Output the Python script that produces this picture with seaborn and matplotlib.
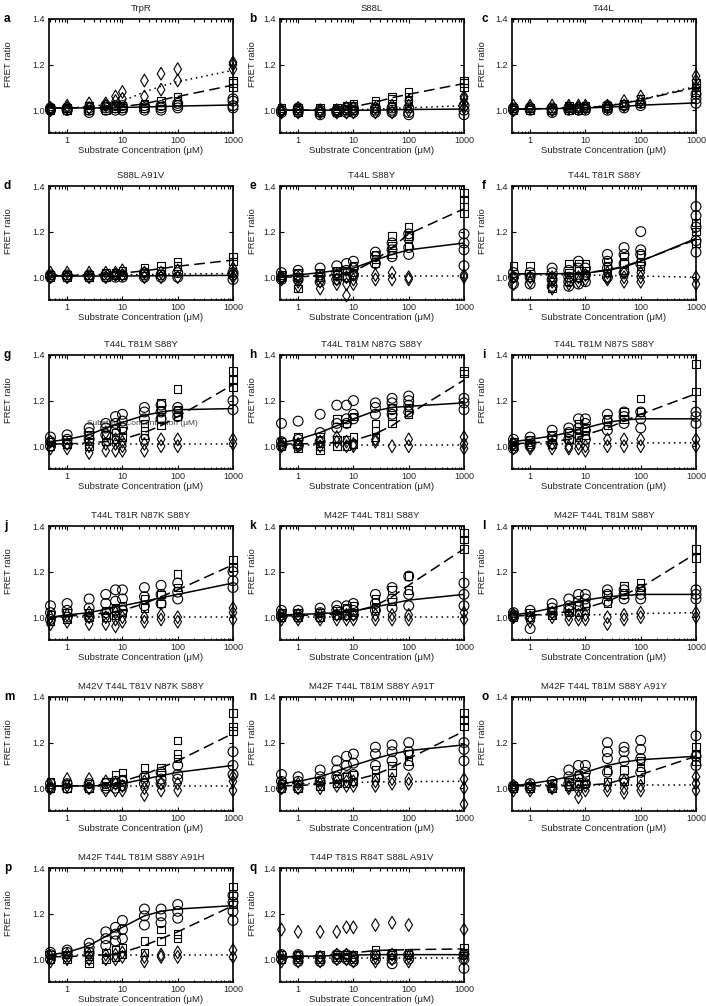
import matplotlib
matplotlib.use("Agg")
import matplotlib.pyplot as plt
import pandas as pd
import seaborn as sns

# substrate concentrations (uM) used in every panel
conc = [0.5, 1, 2.5, 5, 7.5, 10, 25, 50, 100, 1000]
xticks = [1, 10, 100, 1000]
xtick_labels = ['1', '10', '100', '1000']
yticks = [1.0, 1.2, 1.4]
yticks_labels = ['1.0', '1.2', '1.4']

letters = list('abcdefghijklmnopq')
titles = ['TrpR', 'S88L', 'T44L',
          'S88L A91V', 'T44L S88Y', 'T44L T81R S88Y',
          'T44L T81M S88Y', 'T44L T81M N87G S88Y', 'T44L T81M N87S S88Y',
          'T44L T81R N87K S88Y', 'M42F T44L T81I S88Y', 'M42F T44L T81M S88Y',
          'M42V T44L T81V N87K S88Y', 'M42F T44L T81M S88Y A91T', 'M42F T44L T81M S88Y A91Y',
          'M42F T44L T81M S88Y A91H', 'T44P T81S R84T S88L A91V']
narrow_titles = ['T44L', 'T44L S88Y', 'T44L T81M N87S S88Y']

# replicate FRET ratios per concentration: circles / squares / diamonds, and fit lines
a_circ = [[1.0, 1.01, 1.005], [1.0, 1.01, 1.0], [0.99, 1.0, 1.01], [1.0, 1.01, 1.02], [1.0, 1.01, 1.02],
          [1.0, 1.01, 1.02], [1.0, 1.01, 1.02], [1.0, 1.01, 1.02], [1.01, 1.02, 1.03], [1.01, 1.02, 1.04, 1.05]]
a_sq = [[1.0, 1.01], [1.0, 1.01], [1.0, 1.02], [1.0, 1.02], [1.01, 1.02],
        [1.01, 1.02], [1.01, 1.03], [1.02, 1.04], [1.04, 1.06], [1.1, 1.12, 1.13]]
a_dia = [[1.0, 1.01], [1.01, 1.02], [1.01, 1.03], [1.02, 1.03], [1.04, 1.06],
         [1.05, 1.08], [1.06, 1.13], [1.09, 1.16], [1.13, 1.18], [1.18, 1.2, 1.21]]
a_fit_c = [1.01, 1.01, 1.01, 1.01, 1.01, 1.012, 1.014, 1.016, 1.018, 1.023]
a_fit_s = [1.01, 1.01, 1.01, 1.012, 1.014, 1.016, 1.028, 1.045, 1.06, 1.11]
a_fit_d = [1.01, 1.01, 1.015, 1.025, 1.03, 1.04, 1.08, 1.105, 1.125, 1.175]

b_circ = [[0.99, 1.0], [0.99, 1.0, 1.01], [0.98, 0.99, 1.0], [0.99, 1.0], [0.99, 1.0, 1.01],
          [0.99, 1.0, 1.01], [0.99, 1.0, 1.01], [0.99, 1.0, 1.01], [0.98, 0.99, 1.01], [0.98, 1.0, 1.02]]
b_sq = [[1.0, 1.01], [0.99, 1.0, 1.01], [0.99, 1.01], [0.99, 1.0, 1.01], [1.0, 1.02],
        [1.0, 1.02, 1.03], [1.01, 1.03, 1.04], [1.02, 1.05, 1.06], [1.04, 1.06, 1.08], [1.1, 1.12, 1.13]]
b_dia = [[0.99, 1.0], [0.99, 1.01], [0.99, 1.0], [0.99, 1.0], [0.99, 1.01],
         [0.99, 1.01], [0.99, 1.01], [0.99, 1.02], [1.0, 1.02, 1.04], [1.01, 1.03, 1.05, 1.06]]
b_fit_c = [1.0, 1.0, 1.0, 1.0, 1.0, 1.0, 1.0, 1.002, 1.003, 1.005]
b_fit_s = [1.0, 1.0, 1.002, 1.006, 1.01, 1.015, 1.035, 1.055, 1.07, 1.117]
b_fit_d = [1.0, 1.0, 1.0, 1.0, 1.001, 1.002, 1.005, 1.008, 1.01, 1.02]

c_circ = [[1.0, 1.01], [1.0, 1.01], [0.99, 1.0, 1.01], [1.0, 1.01], [1.0, 1.01],
          [1.0, 1.01], [1.0, 1.01, 1.02], [1.01, 1.02], [1.02, 1.03], [1.03, 1.05, 1.07]]
c_sq = [[1.0, 1.01], [1.0, 1.01], [1.0, 1.01], [1.0, 1.01, 1.02], [1.0, 1.01],
        [1.01, 1.02], [1.01, 1.02], [1.02, 1.03], [1.03, 1.05], [1.08, 1.1, 1.12]]
c_dia = [[1.0, 1.02], [1.01, 1.02], [1.0, 1.02], [1.01, 1.02], [1.01, 1.02],
         [1.01, 1.02], [1.01, 1.02], [1.02, 1.04], [1.04, 1.06], [1.1, 1.13, 1.15]]
c_fit_c = [1.005, 1.005, 1.007, 1.008, 1.009, 1.01, 1.013, 1.017, 1.022, 1.032]
c_fit_s = [1.005, 1.006, 1.008, 1.01, 1.011, 1.012, 1.018, 1.03, 1.045, 1.1]
c_fit_d = [1.005, 1.006, 1.008, 1.01, 1.011, 1.012, 1.02, 1.032, 1.047, 1.105]

d_circ = [[1.0, 1.01], [1.0, 1.01], [1.0, 1.01], [1.0, 1.01], [1.0, 1.01],
          [1.0, 1.01], [1.0, 1.01, 1.02], [1.0, 1.01], [1.0, 1.02], [0.99, 1.01, 1.02]]
d_sq = [[1.0, 1.01], [1.0, 1.01], [1.0, 1.01], [1.0, 1.02], [1.01, 1.02],
        [1.01, 1.03], [1.02, 1.04], [1.03, 1.05], [1.05, 1.07], [1.07, 1.09]]
d_dia = [[1.0, 1.02], [1.0, 1.02], [1.0, 1.02], [1.0, 1.02], [1.01, 1.02],
         [1.01, 1.03], [1.0, 1.02], [1.0, 1.02], [1.0, 1.03], [1.0, 1.02, 1.04]]
d_fit_c = [1.005, 1.005, 1.005, 1.005, 1.005, 1.005, 1.006, 1.006, 1.007, 1.008]
d_fit_s = [1.005, 1.007, 1.01, 1.013, 1.016, 1.018, 1.028, 1.038, 1.048, 1.075]
d_fit_d = [1.01, 1.01, 1.01, 1.01, 1.01, 1.01, 1.012, 1.013, 1.014, 1.016]

e_circ = [[0.99, 1.0, 1.02], [0.99, 1.01, 1.03], [0.98, 1.01, 1.04], [0.99, 1.02, 1.05], [1.0, 1.03, 1.06],
          [1.01, 1.04, 1.07], [1.06, 1.09, 1.11], [1.09, 1.12, 1.15], [1.1, 1.13, 1.17, 1.19], [1.05, 1.12, 1.15, 1.19]]
e_sq = [[1.0, 1.01], [0.95, 1.0, 1.02], [1.0, 1.02], [1.01, 1.03], [1.0, 1.03],
        [1.02, 1.05], [1.06, 1.08, 1.1], [1.1, 1.14, 1.18], [1.14, 1.18, 1.22], [1.28, 1.31, 1.34, 1.37]]
e_dia = [[0.99, 1.0], [0.96, 0.98, 1.0], [0.95, 0.98, 1.0], [0.97, 0.99, 1.01], [0.92, 0.97, 1.0],
         [0.97, 0.99, 1.01], [0.99, 1.01], [0.99, 1.02], [0.99, 1.0], [1.0, 1.01]]
e_fit_c = [1.005, 1.01, 1.02, 1.03, 1.035, 1.04, 1.075, 1.1, 1.12, 1.15]
e_fit_s = [1.0, 1.002, 1.006, 1.012, 1.018, 1.025, 1.075, 1.13, 1.19, 1.3]
e_fit_d = [1.005, 1.005, 1.005, 1.005, 1.005, 1.005, 1.005, 1.005, 1.005, 1.005]

f_circ = [[0.97, 1.0, 1.02], [0.97, 1.0, 1.02], [0.96, 0.99, 1.02, 1.04], [0.96, 0.98, 1.0, 1.03], [0.97, 1.0, 1.04, 1.07],
          [0.98, 1.01, 1.04], [1.0, 1.04, 1.07, 1.1], [1.02, 1.06, 1.1, 1.13], [1.06, 1.1, 1.12, 1.2], [1.11, 1.16, 1.22, 1.27, 1.31]]
f_sq = [[1.0, 1.05], [1.0, 1.05], [0.95, 0.98, 1.0], [0.98, 1.02, 1.06], [1.0, 1.03, 1.06],
        [1.01, 1.03, 1.06], [1.02, 1.05, 1.07], [1.03, 1.06, 1.09], [1.05, 1.07, 1.1], [1.15, 1.2, 1.24]]
f_dia = [[0.97, 1.0], [0.98, 1.0], [0.95, 0.98, 1.0], [0.97, 0.99], [0.98, 1.0],
         [0.99, 1.01], [0.99, 1.0, 1.02], [0.98, 1.0, 1.02], [0.98, 1.0, 1.02], [0.97, 1.0]]
f_fit_c = [1.015, 1.015, 1.015, 1.016, 1.017, 1.018, 1.03, 1.045, 1.07, 1.17]
f_fit_s = [1.015, 1.015, 1.015, 1.016, 1.017, 1.019, 1.032, 1.048, 1.072, 1.165]
f_fit_d = [1.01, 1.01, 1.01, 1.01, 1.01, 1.01, 1.008, 1.006, 1.005, 1.0]

g_circ = [[1.0, 1.02, 1.04], [1.01, 1.03, 1.05], [1.03, 1.06, 1.08], [1.05, 1.08, 1.1], [1.07, 1.1, 1.13],
          [1.08, 1.11, 1.14], [1.03, 1.12, 1.15, 1.17], [1.12, 1.15, 1.18], [1.13, 1.15, 1.17], [1.16, 1.2]]
g_sq = [[1.0, 1.02], [1.01, 1.03], [1.0, 1.02, 1.05], [1.02, 1.05], [1.03, 1.06],
        [1.04, 1.07], [1.05, 1.07, 1.1], [1.09, 1.12, 1.16, 1.19], [1.13, 1.16, 1.25], [1.26, 1.29, 1.33]]
g_dia = [[0.99, 1.02], [0.99, 1.01], [0.97, 1.0], [0.98, 1.01, 1.06], [0.98, 1.01, 1.03],
         [0.98, 1.0, 1.02], [0.98, 1.01], [1.0, 1.03], [1.0, 1.03], [1.01, 1.03]]
g_fit_c = [1.02, 1.03, 1.05, 1.08, 1.095, 1.105, 1.135, 1.15, 1.16, 1.165]
g_fit_s = [1.01, 1.01, 1.015, 1.02, 1.025, 1.03, 1.06, 1.09, 1.13, 1.27]
g_fit_d = [1.01, 1.01, 1.01, 1.01, 1.01, 1.01, 1.01, 1.01, 1.01, 1.01]

h_circ = [[1.0, 1.02, 1.1], [1.0, 1.03, 1.11], [1.02, 1.06, 1.14], [1.08, 1.1, 1.18], [1.1, 1.12, 1.18],
          [1.12, 1.14, 1.2], [1.14, 1.17, 1.19], [1.14, 1.16, 1.19, 1.21], [1.15, 1.18, 1.2, 1.22], [1.16, 1.19, 1.21]]
h_sq = [[1.0, 1.02], [0.99, 1.01, 1.04], [0.98, 1.0, 1.04], [1.0, 1.03, 1.12], [1.0, 1.03, 1.1],
        [1.01, 1.04, 1.13], [1.04, 1.07, 1.1], [1.1, 1.13, 1.17], [1.14, 1.17], [1.32, 1.33]]
h_dia = [[1.0, 1.01], [1.0, 1.01], [1.0, 1.02], [1.02, 1.04], [1.0, 1.02],
         [1.0, 1.01], [1.02, 1.03], [1.0], [1.0, 1.03], [0.99, 1.01, 1.04]]
h_fit_c = [1.015, 1.03, 1.06, 1.09, 1.105, 1.12, 1.155, 1.17, 1.175, 1.19]
h_fit_s = [1.01, 1.01, 1.012, 1.016, 1.02, 1.025, 1.055, 1.09, 1.14, 1.29]
h_fit_d = [1.005, 1.005, 1.005, 1.005, 1.005, 1.005, 1.005, 1.005, 1.005, 1.005]

i_circ = [[0.99, 1.01, 1.03], [1.0, 1.02, 1.04], [1.01, 1.04, 1.07], [1.03, 1.06, 1.08], [1.05, 1.08, 1.12],
          [1.03, 1.07, 1.1, 1.12], [1.07, 1.11, 1.14], [1.1, 1.13, 1.15], [1.08, 1.12, 1.15], [1.1, 1.13, 1.15]]
i_sq = [[1.0, 1.02], [1.01, 1.03], [1.01, 1.03, 1.05], [1.03, 1.06], [1.04, 1.07, 1.1],
        [1.05, 1.08], [1.09, 1.12], [1.12, 1.15], [1.15, 1.21], [1.24, 1.36]]
i_dia = [[0.99, 1.01], [0.99, 1.0], [0.99, 1.01], [0.99, 1.0], [0.99, 1.01],
         [0.98, 1.0], [1.0, 1.03], [1.0, 1.03], [1.0, 1.03], [1.0, 1.03]]
i_fit_c = [1.02, 1.03, 1.045, 1.06, 1.075, 1.08, 1.105, 1.115, 1.12, 1.12]
i_fit_s = [1.01, 1.015, 1.02, 1.03, 1.04, 1.05, 1.08, 1.11, 1.14, 1.23]
i_fit_d = [1.01, 1.01, 1.01, 1.01, 1.01, 1.01, 1.012, 1.013, 1.014, 1.015]

j_circ = [[0.99, 1.02, 1.05], [1.0, 1.03, 1.06], [1.0, 1.04, 1.08], [1.02, 1.06, 1.1], [1.03, 1.07, 1.12],
          [1.03, 1.08, 1.12], [1.05, 1.09, 1.13], [1.06, 1.1, 1.14], [1.08, 1.11, 1.15], [1.13, 1.16, 1.2]]
j_sq = [[0.98, 1.01], [0.99, 1.02], [1.0, 1.02], [1.0, 1.03], [1.01, 1.04],
        [1.02, 1.05], [1.04, 1.08], [1.06, 1.1], [1.13, 1.19], [1.22, 1.25]]
j_dia = [[0.97, 1.0], [0.98, 1.01], [0.97, 1.0, 1.02], [0.97, 1.0], [0.96, 0.99, 1.02],
         [0.98, 1.0], [0.98, 1.0], [0.99, 1.01], [0.98, 1.0], [0.99, 1.02, 1.04]]
j_fit_c = [1.0, 1.01, 1.02, 1.035, 1.045, 1.05, 1.07, 1.085, 1.1, 1.15]
j_fit_s = [1.0, 1.005, 1.01, 1.02, 1.025, 1.03, 1.06, 1.09, 1.12, 1.23]
j_fit_d = [1.0, 1.0, 1.0, 1.0, 1.0, 1.0, 1.0, 1.0, 1.0, 1.0]

k_circ = [[1.0, 1.01, 1.03], [1.0, 1.01, 1.03], [1.0, 1.02, 1.04], [1.01, 1.03, 1.05], [1.01, 1.03, 1.05],
          [1.01, 1.03, 1.06], [1.03, 1.06, 1.1], [1.04, 1.08, 1.13], [1.05, 1.1, 1.18], [1.05, 1.1, 1.15]]
k_sq = [[1.0, 1.02], [1.0, 1.02], [1.0, 1.02], [1.01, 1.03], [1.01, 1.04],
        [1.02, 1.05], [1.04, 1.08], [1.07, 1.12], [1.12, 1.18], [1.3, 1.34, 1.37]]
k_dia = [[0.99, 1.01], [0.99, 1.01], [0.99, 1.01], [0.99, 1.01], [0.99, 1.01],
         [0.99, 1.01], [0.99, 1.01], [0.99, 1.01], [0.99, 1.01], [0.99, 1.02]]
k_fit_c = [1.01, 1.012, 1.016, 1.02, 1.024, 1.027, 1.045, 1.06, 1.075, 1.1]
k_fit_s = [1.005, 1.007, 1.01, 1.015, 1.02, 1.025, 1.05, 1.09, 1.14, 1.3]
k_fit_d = [1.0, 1.0, 1.0, 1.0, 1.0, 1.0, 1.0, 1.0, 1.0, 1.0]

l_circ = [[1.0, 1.01, 1.02], [0.95, 1.0, 1.03], [1.02, 1.04, 1.06], [1.03, 1.05, 1.08], [1.05, 1.07, 1.1],
          [1.05, 1.08, 1.1], [1.07, 1.1, 1.12], [1.08, 1.1, 1.12], [1.08, 1.1, 1.12], [1.08, 1.1, 1.12]]
l_sq = [[1.0, 1.01], [1.0, 1.02], [1.01, 1.03], [1.02, 1.04], [1.02, 1.05],
        [1.03, 1.06], [1.06, 1.1], [1.1, 1.14], [1.13, 1.15], [1.26, 1.3]]
l_dia = [[1.0, 1.01], [0.98, 1.0], [1.0, 1.02], [0.99, 1.01], [0.99, 1.01],
         [0.99, 1.01], [0.97, 1.0], [0.99, 1.01], [1.0, 1.02], [1.0, 1.02]]
l_fit_c = [1.01, 1.02, 1.04, 1.06, 1.07, 1.075, 1.09, 1.095, 1.1, 1.1]
l_fit_s = [1.005, 1.008, 1.015, 1.025, 1.03, 1.04, 1.07, 1.1, 1.13, 1.28]
l_fit_d = [1.01, 1.01, 1.01, 1.01, 1.01, 1.01, 1.012, 1.014, 1.016, 1.02]

m_circ = [[1.0, 1.02], [1.0, 1.02], [1.0, 1.02], [1.0, 1.02], [1.0, 1.02, 1.03],
          [1.01, 1.03], [1.02, 1.05], [1.02, 1.04, 1.07], [1.04, 1.06, 1.1], [1.06, 1.1, 1.16]]
m_sq = [[1.0, 1.03], [1.0, 1.02], [1.0, 1.02], [1.01, 1.03], [1.03, 1.06],
        [1.04, 1.07], [1.05, 1.09], [1.07, 1.09], [1.13, 1.15, 1.21], [1.25, 1.27, 1.33]]
m_dia = [[1.0, 1.01], [1.01, 1.04], [1.0, 1.04], [0.99, 1.03], [0.99, 1.02],
         [0.99, 1.01], [0.97, 1.0, 1.03], [0.99, 1.02], [0.99, 1.02], [0.99, 1.03, 1.05]]
m_fit_c = [1.01, 1.01, 1.01, 1.012, 1.015, 1.02, 1.04, 1.055, 1.07, 1.1]
m_fit_s = [1.01, 1.01, 1.012, 1.018, 1.024, 1.03, 1.06, 1.09, 1.12, 1.24]
m_fit_d = [1.01, 1.01, 1.01, 1.01, 1.01, 1.01, 1.01, 1.01, 1.01, 1.01]

n_circ = [[1.0, 1.03, 1.06], [1.0, 1.03, 1.05], [1.03, 1.05, 1.08], [1.05, 1.08, 1.12], [1.05, 1.1, 1.14],
          [1.06, 1.11, 1.15], [1.1, 1.15, 1.18], [1.12, 1.16, 1.19], [1.1, 1.16, 1.2], [1.12, 1.17, 1.2]]
n_sq = [[1.0, 1.02], [1.0, 1.02], [1.01, 1.03], [1.02, 1.04], [1.02, 1.05],
        [1.03, 1.06], [1.05, 1.08], [1.07, 1.1], [1.12, 1.15], [1.27, 1.3, 1.33]]
n_dia = [[1.0, 1.02], [1.0, 1.02], [1.0, 1.02], [1.01, 1.03], [1.01, 1.03],
         [1.01, 1.03], [1.01, 1.03], [1.02, 1.04], [1.02, 1.04], [0.93, 1.0, 1.04]]
n_fit_c = [1.02, 1.03, 1.05, 1.075, 1.09, 1.1, 1.13, 1.15, 1.165, 1.19]
n_fit_s = [1.01, 1.012, 1.017, 1.025, 1.03, 1.035, 1.06, 1.09, 1.13, 1.25]
n_fit_d = [1.02, 1.02, 1.02, 1.022, 1.024, 1.025, 1.027, 1.028, 1.029, 1.03]

o_circ = [[1.0, 1.01], [1.0, 1.02], [1.0, 1.03], [1.02, 1.05, 1.08], [1.01, 1.05, 1.1],
          [1.02, 1.07, 1.1], [1.07, 1.13, 1.16, 1.2], [1.04, 1.12, 1.16, 1.18], [1.07, 1.13, 1.17, 1.21], [1.1, 1.14, 1.23]]
o_sq = [[1.0, 1.01], [1.0, 1.01], [1.0, 1.02], [1.01, 1.03], [1.02, 1.06],
        [1.02, 1.05], [1.03, 1.08], [1.03, 1.08], [1.04, 1.09, 1.12], [1.12, 1.15, 1.18]]
o_dia = [[0.99, 1.01], [0.99, 1.01], [1.0, 1.01], [1.0, 1.01], [0.96, 0.99, 1.02],
         [0.99, 1.01], [0.99, 1.01], [0.98, 1.0, 1.03], [0.99, 1.01], [0.99, 1.02, 1.05]]
o_fit_c = [1.01, 1.02, 1.035, 1.05, 1.06, 1.07, 1.1, 1.115, 1.125, 1.14]
o_fit_s = [1.01, 1.01, 1.01, 1.011, 1.012, 1.013, 1.02, 1.04, 1.06, 1.14]
o_fit_d = [1.015, 1.015, 1.015, 1.015, 1.015, 1.015, 1.015, 1.015, 1.015, 1.015]

p_circ = [[1.0, 1.02, 1.03], [1.01, 1.03, 1.04], [1.03, 1.05, 1.07], [1.06, 1.09, 1.12], [1.08, 1.11, 1.14],
          [1.09, 1.13, 1.17], [1.15, 1.19, 1.22], [1.16, 1.19, 1.22], [1.18, 1.21, 1.24], [1.17, 1.21, 1.25, 1.28]]
p_sq = [[1.0, 1.02], [1.0, 1.02], [0.98, 1.0, 1.02], [1.0, 1.03], [1.01, 1.04],
        [1.02, 1.05], [1.03, 1.08], [1.08, 1.13], [1.09, 1.11], [1.24, 1.28, 1.32]]
p_dia = [[0.99, 1.01], [1.0, 1.02], [1.0, 1.02], [1.0, 1.02], [1.0, 1.02],
         [1.01, 1.03], [0.99, 1.01], [1.01, 1.02], [1.01, 1.03], [1.01, 1.04]]
p_fit_c = [1.02, 1.03, 1.06, 1.1, 1.125, 1.14, 1.19, 1.21, 1.22, 1.235]
p_fit_s = [1.01, 1.012, 1.015, 1.02, 1.025, 1.03, 1.06, 1.09, 1.12, 1.235]
p_fit_d = [1.02, 1.02, 1.02, 1.02, 1.02, 1.02, 1.02, 1.02, 1.02, 1.02]

q_circ = [[1.0, 1.02], [0.99, 1.01, 1.02], [0.99, 1.01], [1.0, 1.02], [1.0, 1.02],
          [0.99, 1.01], [1.0, 1.02], [0.98, 1.0, 1.02], [1.0, 1.02], [0.96, 1.0, 1.02]]
q_sq = [[1.0, 1.02], [1.0, 1.02], [1.0, 1.02], [1.01, 1.02], [1.01, 1.02],
        [1.0, 1.02], [1.02, 1.04], [1.02, 1.03], [1.02, 1.03], [1.03, 1.05]]
q_dia = [[0.99, 1.01, 1.13], [0.99, 1.01, 1.12], [0.99, 1.01, 1.12], [1.0, 1.02, 1.12], [1.0, 1.02, 1.14],
         [0.99, 1.01, 1.14], [0.99, 1.01, 1.15], [1.0, 1.02, 1.16], [0.99, 1.01, 1.15], [1.0, 1.02, 1.13]]
q_fit_c = [1.01, 1.012, 1.014, 1.016, 1.017, 1.018, 1.02, 1.02, 1.02, 1.02]
q_fit_s = [1.01, 1.012, 1.015, 1.02, 1.024, 1.028, 1.038, 1.04, 1.042, 1.045]
q_fit_d = [1.005, 1.005, 1.005, 1.005, 1.005, 1.005, 1.005, 1.005, 1.005, 1.005]

panels = [
    (a_circ, a_sq, a_dia, a_fit_c, a_fit_s, a_fit_d),
    (b_circ, b_sq, b_dia, b_fit_c, b_fit_s, b_fit_d),
    (c_circ, c_sq, c_dia, c_fit_c, c_fit_s, c_fit_d),
    (d_circ, d_sq, d_dia, d_fit_c, d_fit_s, d_fit_d),
    (e_circ, e_sq, e_dia, e_fit_c, e_fit_s, e_fit_d),
    (f_circ, f_sq, f_dia, f_fit_c, f_fit_s, f_fit_d),
    (g_circ, g_sq, g_dia, g_fit_c, g_fit_s, g_fit_d),
    (h_circ, h_sq, h_dia, h_fit_c, h_fit_s, h_fit_d),
    (i_circ, i_sq, i_dia, i_fit_c, i_fit_s, i_fit_d),
    (j_circ, j_sq, j_dia, j_fit_c, j_fit_s, j_fit_d),
    (k_circ, k_sq, k_dia, k_fit_c, k_fit_s, k_fit_d),
    (l_circ, l_sq, l_dia, l_fit_c, l_fit_s, l_fit_d),
    (m_circ, m_sq, m_dia, m_fit_c, m_fit_s, m_fit_d),
    (n_circ, n_sq, n_dia, n_fit_c, n_fit_s, n_fit_d),
    (o_circ, o_sq, o_dia, o_fit_c, o_fit_s, o_fit_d),
    (p_circ, p_sq, p_dia, p_fit_c, p_fit_s, p_fit_d),
    (q_circ, q_sq, q_dia, q_fit_c, q_fit_s, q_fit_d),
]


def long_form(values):
    xs, ys = [], []
    for c, reps in zip(conc, values):
        xs += [c] * len(reps)
        ys += reps
    return pd.DataFrame({'conc': xs, 'ratio': ys})


sns.set_style('ticks')
plt.rcParams['font.family'] = ['Liberation Sans', 'DejaVu Sans']
plt.rcParams['text.color'] = '#222222'
plt.rcParams['axes.labelcolor'] = '#222222'
plt.rcParams['xtick.color'] = 'black'
plt.rcParams['ytick.color'] = 'black'
plt.rcParams['xtick.labelcolor'] = '#222222'
plt.rcParams['ytick.labelcolor'] = '#222222'

W, H = 706, 1006
fig = plt.figure(figsize=(W / 100, H / 100), dpi=100)

col_left = [49, 280, 512]
row_top = [19, 186, 355, 526, 697, 868]
ax_w, ax_h = 184, 114
letter_x = [4, 249, 482]
ylab_x = [13, 257, 487]   # right edge of the rotated y label

markers = [('o', 50), ('s', 29), ('d', 42)]
line_styles = ['-', (0, (7, 3.5)), (0, (1, 2.5))]

for idx, series in enumerate(panels):
    row, col = divmod(idx, 3)
    left, top = col_left[col], row_top[row]
    ax = fig.add_axes([left / W, 1 - (top + ax_h) / H, ax_w / W, ax_h / H])

    for vals, (mk, sz) in zip(series[:3], markers):
        sns.scatterplot(data=long_form(vals), x='conc', y='ratio', marker=mk, s=sz,
                        facecolors='none', edgecolor='black', linewidth=0.8,
                        ax=ax, clip_on=False, zorder=3)
    for fit, ls in zip(series[3:], line_styles):
        sns.lineplot(x=conc, y=fit, ax=ax, color='black', linewidth=1.1,
                     linestyle=ls, zorder=4)

    ax.set_xscale('log')
    ax.set_xlim(0.47, 1000)
    ax.set_ylim(0.9, 1.4)
    ax.set_xticks(xticks, labels=xtick_labels)
    ax.set_yticks(yticks, labels=yticks_labels)
    ax.tick_params(which='both', direction='in', top=True, right=True,
                   labelsize=6.5, width=0.8)
    ax.tick_params(which='major', length=3)
    ax.tick_params(axis='x', which='major', pad=2.2)
    ax.tick_params(axis='y', which='major', pad=3)
    ax.tick_params(which='minor', length=1.8)
    ax.tick_params(axis='y', which='minor', left=False, right=False)
    for sp in ax.spines.values():
        sp.set_linewidth(1.2)
        sp.set_color('black')

    ax.set_xlabel('Substrate Concentration (μM)', fontsize=6.8, labelpad=0)
    ax.xaxis.set_label_coords(0.5, -0.112)
    ax.set_ylabel('FRET ratio', fontsize=6.8)
    ax.yaxis.set_label_coords((ylab_x[col] - left) / ax_w, 0.6)

    title = titles[idx]
    if title in narrow_titles:
        ax.set_title(title, fontsize=6.8, pad=6,
                     family=['Liberation Sans Narrow', 'Liberation Sans'])
    else:
        ax.set_title(title, fontsize=6.8, pad=6)

    fig.text(letter_x[col] / W, 1 - top / H, letters[idx], fontsize=8.5,
             fontweight='bold', color='black', ha='left', va='center')

    if letters[idx] == 'g':
        ax.text(0.51, 0.40, 'Substrate Concentration (μM)', transform=ax.transAxes,
                fontsize=6, color='#444444', ha='center', va='center', zorder=2)

fig.savefig('out.png', dpi=100)
